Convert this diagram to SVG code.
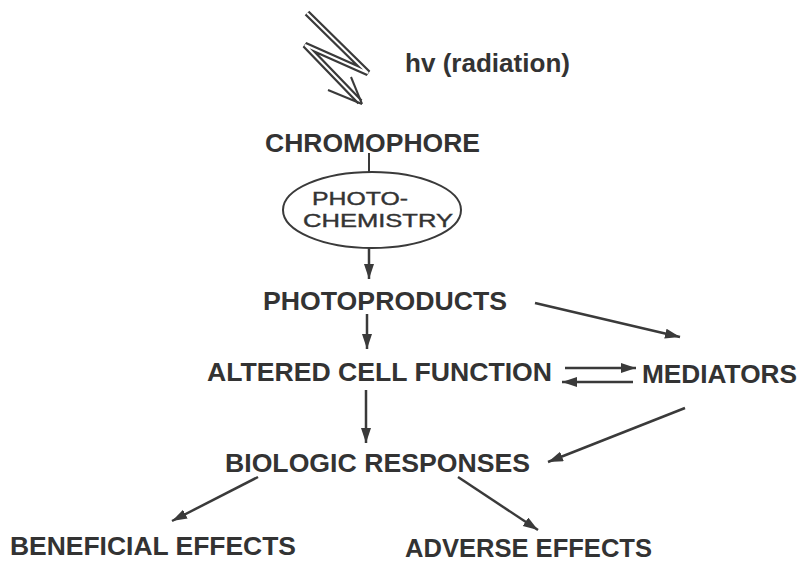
<svg xmlns="http://www.w3.org/2000/svg" width="801" height="561" viewBox="0 0 801 561">
<defs>
<marker id="ah" markerUnits="userSpaceOnUse" markerWidth="17" markerHeight="11" refX="15" refY="5" orient="auto">
<path d="M0,0 L15,5 L0,10 z" fill="#3a3a3a"/>
</marker>
<style>
.t{font-family:"Liberation Sans",Arial,sans-serif;font-weight:bold;fill:#333;font-size:25px}
.r{font-family:"Liberation Sans",Arial,sans-serif;fill:#333;font-size:19px;stroke:#333;stroke-width:0.4}
.c{stroke:#3a3a3a;stroke-width:2.5;fill:none;marker-end:url(#ah)}
.l{stroke:#3a3a3a;stroke-width:2;fill:none}
</style>
</defs>
<rect width="801" height="561" fill="#fff"/>
<g id="radiation">
<polyline points="307,13 368,73 305,45 360,102" fill="none" stroke="#3a3a3a" stroke-width="6.5" stroke-linejoin="miter"/>
<polyline points="307,13 368,73 305,45 360,102" fill="none" stroke="#fff" stroke-width="2" stroke-linejoin="miter"/>
<line x1="362" y1="104" x2="328" y2="90" class="l" stroke-width="3"/>
<line x1="362" y1="104" x2="351" y2="77" class="l" stroke-width="3"/>
<text class="t" x="405" y="72" font-size="22" textLength="165" lengthAdjust="spacingAndGlyphs">hv (radiation)</text>
</g>
<g id="chromophore">
<text class="t" x="265" y="152" textLength="215" lengthAdjust="spacingAndGlyphs">CHROMOPHORE</text>
</g>
<g id="photochemistry">
<ellipse cx="372" cy="210" rx="89" ry="38" class="l"/>
<text class="r" x="312" y="205" textLength="96" lengthAdjust="spacingAndGlyphs">PHOTO-</text>
<text class="r" x="303" y="227" textLength="150" lengthAdjust="spacingAndGlyphs">CHEMISTRY</text>
</g>
<g id="photoproducts">
<text class="t" x="263" y="310" textLength="244" lengthAdjust="spacingAndGlyphs">PHOTOPRODUCTS</text>
</g>
<g id="altered">
<text class="t" x="207" y="381" textLength="345" lengthAdjust="spacingAndGlyphs">ALTERED CELL FUNCTION</text>
</g>
<g id="mediators">
<text class="t" x="642" y="383" textLength="155" lengthAdjust="spacingAndGlyphs">MEDIATORS</text>
</g>
<g id="biologic">
<text class="t" x="225" y="472" textLength="305" lengthAdjust="spacingAndGlyphs">BIOLOGIC RESPONSES</text>
</g>
<g id="beneficial">
<text class="t" x="10" y="555" textLength="286" lengthAdjust="spacingAndGlyphs">BENEFICIAL EFFECTS</text>
</g>
<g id="adverse">
<text class="t" x="405" y="557" textLength="247" lengthAdjust="spacingAndGlyphs">ADVERSE EFFECTS</text>
</g>
<g id="connectors">
<line x1="369" y1="153" x2="369" y2="172" class="l"/>
<line x1="369" y1="248" x2="369" y2="279" class="c"/>
<line x1="367" y1="314" x2="367" y2="349" class="c"/>
<line x1="535" y1="303" x2="680" y2="337" class="c"/>
<line x1="565" y1="368" x2="636" y2="368" class="c"/>
<line x1="633" y1="382" x2="562" y2="382" class="c"/>
<line x1="685" y1="408" x2="548" y2="462" class="c"/>
<line x1="366" y1="390" x2="366" y2="443" class="c"/>
<line x1="258" y1="477" x2="172" y2="521" class="c"/>
<line x1="458" y1="477" x2="538" y2="530" class="c"/>
</g>
</svg>
